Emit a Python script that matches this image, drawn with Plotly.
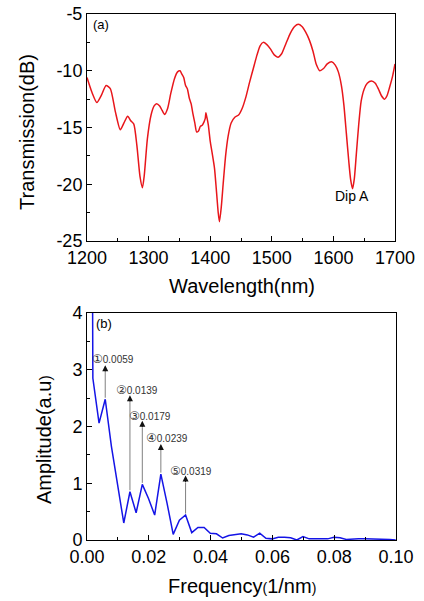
import plotly.graph_objects as go

# (a) transmission spectrum
wavelength = [1200, 1208, 1216, 1223, 1231, 1238, 1246, 1254, 1260, 1266, 1271, 1276, 1281, 1286,
              1290, 1293, 1298, 1304, 1309, 1313, 1318, 1322, 1326, 1331, 1336, 1342, 1347, 1351,
              1354, 1357, 1360, 1363, 1366, 1369, 1372, 1375, 1378, 1381, 1384, 1387, 1390, 1392,
              1393, 1395, 1397, 1400, 1403, 1407, 1410, 1413, 1415, 1418, 1421, 1425, 1429, 1434,
              1440, 1446, 1452, 1458, 1464, 1470, 1476, 1481, 1486, 1492, 1498, 1504, 1510, 1516,
              1523, 1530, 1537, 1543, 1549, 1555, 1561, 1567, 1572, 1578, 1584, 1590, 1597, 1603,
              1608, 1613, 1617, 1621, 1625, 1628, 1631, 1634, 1637, 1641, 1645, 1650, 1655, 1662,
              1668, 1673, 1678, 1683, 1687, 1691, 1696, 1700]
transmission = [-10.6, -11.9, -12.8, -12.2, -11.3, -11.6, -13.6, -15.2, -14.6, -14.0, -14.4, -14.7, -16.6, -19.3,
                -20.3, -19.2, -16.0, -13.9, -13.1, -12.9, -13.1, -13.5, -13.85, -13.3, -12.0, -10.7, -10.1, -10.0,
                -10.3, -10.6, -11.3, -11.6, -12.4, -12.9, -13.8, -14.6, -15.4, -15.3, -14.9, -14.8, -14.5, -14.2,
                -13.7, -14.2, -14.8, -16.2, -17.2, -18.6, -20.5, -22.5, -23.3, -22.0, -20.0, -17.5, -15.8, -14.6,
                -14.1, -13.9, -13.3, -12.3, -11.0, -9.8, -8.6, -7.8, -7.5, -7.7, -8.1, -8.6, -8.8, -8.5,
                -7.6, -6.7, -6.1, -5.9, -6.1, -6.6, -7.3, -8.3, -9.4, -10.0, -9.8, -9.4, -9.2, -9.5,
                -10.1, -11.3, -13.0, -15.5, -18.0, -19.6, -20.4, -19.5, -17.5, -14.8, -12.7, -11.6, -11.1, -10.9,
                -11.1, -11.6, -12.2, -12.5, -12.2, -11.5, -10.5, -9.4]
wl_ticks = [1200, 1300, 1400, 1500, 1600, 1700]
tr_ticks = [-25, -20, -15, -10, -5]
tr_ticktext = ["-25", "-20", "-15", "-10", "-5"]

# (b) FFT spectrum
frequency = [0.0, 0.0019, 0.0039, 0.0059, 0.0079, 0.0099, 0.0119, 0.0139, 0.0159, 0.0179, 0.0199,
             0.0219, 0.0239, 0.0259, 0.0279, 0.0299, 0.0319, 0.0339, 0.0359, 0.0379, 0.0399, 0.0419,
             0.0439, 0.0459, 0.0479, 0.0499, 0.0519, 0.0539, 0.0559, 0.0579, 0.0599, 0.0619, 0.0639,
             0.0659, 0.0679, 0.0699, 0.0719, 0.0739, 0.0759, 0.0779, 0.0799, 0.0819, 0.0839, 0.0859,
             0.0879, 0.0899, 0.0919, 0.0939, 0.0959, 0.0979, 0.0999]
amplitude = [30.0, 2.85, 2.06, 2.48, 1.65, 1.0, 0.30, 0.85, 0.48, 0.98, 0.73,
             0.44, 1.16, 0.65, 0.10, 0.35, 0.44, 0.13, 0.22, 0.22, 0.12, 0.11,
             0.035, 0.08, 0.10, 0.11, 0.09, 0.05, 0.12, 0.03, 0.02, 0.05, 0.05,
             0.04, 0.0, 0.06, 0.02, 0.02, 0.03, 0.02, 0.05, 0.04, 0.01, 0.02,
             0.02, 0.02, 0.02, 0.02, 0.01, 0.01, 0.0]
fr_ticks = [0, 0.02, 0.04, 0.06, 0.08, 0.1]
fr_ticktext = ["0.00", "0.02", "0.04", "0.06", "0.08", "0.10"]
am_ticks = [0, 1, 2, 3, 4]

peak_freq = [0.0059, 0.0139, 0.0179, 0.0239, 0.0319]
peak_amp = [2.48, 0.85, 0.98, 1.16, 0.44]
arrow_tip = [3.08, 2.55, 2.10, 1.69, 1.135]
peak_marks = ["\u2460", "\u2461", "\u2462", "\u2463", "\u2464"]
peak_values = ["0.0059", "0.0139", "0.0179", "0.0239", "0.0319"]
label_x = [0.0083, 0.0163, 0.0204, 0.0258, 0.0338]
label_y = [3.19, 2.64, 2.19, 1.79, 1.22]

FONT = "Liberation Sans, Arial, sans-serif"
CJK = "DejaVu Sans"
W, H = 424, 601

fig = go.Figure()
fig.add_trace(go.Scatter(x=wavelength, y=transmission, mode="lines",
                         line=dict(color="#e8161b", width=1.5, shape="spline", smoothing=0.6),
                         xaxis="x", yaxis="y", showlegend=False, hoverinfo="skip"))
fig.add_trace(go.Scatter(x=frequency, y=amplitude, mode="lines",
                         line=dict(color="#1414e6", width=1.5),
                         xaxis="x2", yaxis="y2", showlegend=False, hoverinfo="skip"))

axis_common = dict(showgrid=False, zeroline=False, showline=True, linecolor="black", linewidth=1,
                   mirror=True, ticks="inside", ticklen=5, tickcolor="black", automargin=False,
                   tickfont=dict(family=FONT, size=18, color="black"))

fig.update_layout(
    width=W, height=H, margin=dict(l=0, r=0, t=0, b=0),
    paper_bgcolor="white", plot_bgcolor="white",
    xaxis=dict(domain=[87 / W, 395 / W], range=[1200, 1700], tickvals=wl_ticks,
               minor=dict(ticks="inside", ticklen=3, dtick=50, tick0=1200, tickcolor="black"),
               anchor="y", **axis_common),
    yaxis=dict(domain=[1 - 241 / H, 1 - 14 / H], range=[-25, -5], tickvals=tr_ticks, ticktext=tr_ticktext,
               minor=dict(ticks="inside", ticklen=3, dtick=2.5, tick0=-25, tickcolor="black"),
               anchor="x", **axis_common),
    xaxis2=dict(domain=[87 / W, 396 / W], range=[0, 0.1], tickvals=fr_ticks, ticktext=fr_ticktext,
                minor=dict(ticks="inside", ticklen=3, dtick=0.01, tick0=0, tickcolor="black"),
                anchor="y2", **axis_common),
    yaxis2=dict(domain=[1 - 540 / H, 1 - 313 / H], range=[0, 4], tickvals=am_ticks,
                minor=dict(ticks="inside", ticklen=3, dtick=0.5, tick0=0, tickcolor="black"),
                anchor="x2", **axis_common),
)

ann = []
# axis titles
ann.append(dict(text="Wavelength(nm)", x=242 / W, y=1 - 286 / H, xref="paper", yref="paper",
                xanchor="center", yanchor="middle",
                showarrow=False, font=dict(family=FONT, size=20, color="black")))
ann.append(dict(text="Transmission(dB)", x=27 / W, y=1 - 132 / H, xref="paper", yref="paper",
                xanchor="center", yanchor="middle",
                showarrow=False, textangle=-90, font=dict(family=FONT, size=20, color="black")))
ann.append(dict(text="Frequency<span style='font-size:14px'>(</span>1/nm<span style='font-size:14px'>)</span>",
                x=242 / W, y=1 - 586 / H, xref="paper", yref="paper",
                xanchor="center", yanchor="middle",
                showarrow=False, font=dict(family=FONT, size=20, color="black")))
ann.append(dict(text="Amplitude(a.u<span style='font-size:16px'>)</span>",
                x=44 / W, y=1 - 440 / H, xref="paper", yref="paper",
                xanchor="center", yanchor="middle",
                showarrow=False, textangle=-90, font=dict(family=FONT, size=20, color="black")))
# panel labels
ann.append(dict(text="(a)", x=1222, y=-5.9, xref="x", yref="y", showarrow=False,
                xanchor="center", yanchor="middle", font=dict(family=FONT, size=13, color="black")))
ann.append(dict(text="Dip A", x=1630, y=-21.0, xref="x", yref="y", showarrow=False,
                xanchor="center", yanchor="middle", font=dict(family=FONT, size=14, color="black")))
ann.append(dict(text="(b)", x=0.0054, y=3.82, xref="x2", yref="y2", showarrow=False,
                xanchor="center", yanchor="middle", font=dict(family=FONT, size=13, color="black")))
# arrows: gray shaft, black head
for f, a, t in zip(peak_freq, peak_amp, arrow_tip):
    ann.append(dict(x=f, y=t - 0.12, ax=f, ay=a, xref="x2", yref="y2", axref="x2", ayref="y2",
                    text="", showarrow=True, arrowhead=0, arrowwidth=1,
                    arrowcolor="#808080", standoff=0, startstandoff=0))
    ann.append(dict(x=f, y=t, ax=f, ay=t - 0.14, xref="x2", yref="y2", axref="x2", ayref="y2",
                    text="", showarrow=True, arrowhead=2, arrowsize=1.2, arrowwidth=1,
                    arrowcolor="#111111", standoff=0, startstandoff=0))
for lx, ly, m, v in zip(label_x, label_y, peak_marks, peak_values):
    ann.append(dict(text=f"<span style='font-family:{CJK};font-size:12px'>{m}</span>{v}", x=lx, y=ly,
                    xref="x2", yref="y2", showarrow=False,
                    xanchor="center", yanchor="middle",
                    font=dict(family=FONT, size=10, color="#333333")))

fig.update_layout(annotations=ann)
fig.write_html("out.html", config={"displayModeBar": False},
               post_script="document.body.style.margin='0';document.body.style.padding='0';")
